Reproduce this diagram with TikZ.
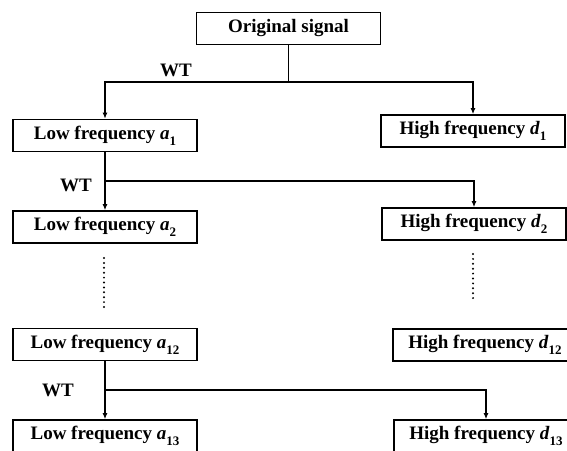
\documentclass[tikz,border=0pt]{standalone}
\usepackage{fontspec}
\setmainfont{Liberation Serif}
\usetikzlibrary{arrows.meta,positioning}
\newcommand{\bandsub}[2]{\textit{#1}\raisebox{-0.3em}{\fontsize{13}{13}\selectfont #2}}

\begin{document}
\begin{tikzpicture}[
  x=1pt,y=1pt,
  band/.style={draw,line width=1.6pt,minimum width=184pt,minimum height=32pt,inner sep=0pt,font=\fontsize{19}{21}\selectfont\bfseries},
  flow/.style={-{Latex[length=6pt,width=5pt]},line width=1.3pt},
  link/.style={line width=1.3pt},
  wt label/.style={inner sep=0pt,font=\fontsize{19}{21}\selectfont\bfseries},
  skip/.style={line width=2.2pt,line cap=round,dash pattern=on 0pt off 4.9pt}
]
\useasboundingbox (0,0) rectangle (567,-450);
\node[band] (orig) at (288.5,-28.5) {Original signal};
\node[band] (low1) at (105,-135.5) {Low frequency \bandsub{a}{1}};
\node[band] (high1) at (473,-131) {High frequency \bandsub{d}{1}};
\node[band] (low2) at (105,-227) {Low frequency \bandsub{a}{2}};
\node[band] (high2) at (474,-224) {High frequency \bandsub{d}{2}};
\node[band] (low12) at (105,-344.5) {Low frequency \bandsub{a}{12}};
\node[band] (high12) at (485,-345) {High frequency \bandsub{d}{12}};
\node[band] (low13) at (105,-436) {Low frequency \bandsub{a}{13}};
\node[band] (high13) at (486,-436) {High frequency \bandsub{d}{13}};
% first WT
\coordinate (j0) at (288.5,-82);
\draw[link] (orig.south) -- (j0);
\draw[flow] (j0) -| (low1.north);
\draw[flow] (j0) -| (high1.north);
\node[wt label] (wt0) at (176,-70) {WT};
% second WT
\coordinate (j1) at (105,-181);
\draw[flow] (low1.south) -- (low2.north);
\draw[flow] (j1) -| (high2.north);
\node[wt label] (wt1) at (76,-185) {WT};
% skipped levels
\coordinate (s0) at (104,-258);
\coordinate (s1) at (104,-307);
\coordinate (s2) at (473,-254);
\coordinate (s3) at (473,-302);
\draw[skip] (s0) -- (s1);
\draw[skip] (s2) -- (s3);
% last WT
\coordinate (j2) at (105,-390);
\draw[flow] (low12.south) -- (low13.north);
\draw[flow] (j2) -| (high13.north);
\node[wt label] (wt2) at (58,-390) {WT};
\end{tikzpicture}
\end{document}
